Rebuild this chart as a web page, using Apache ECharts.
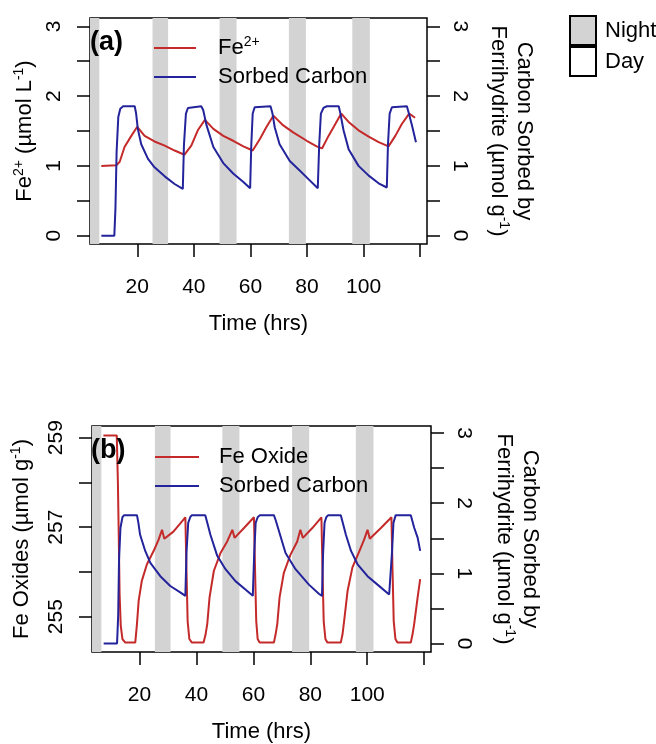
<!DOCTYPE html>
<html>
<head>
<meta charset="utf-8">
<script src="https://cdn.jsdelivr.net/npm/echarts@6/dist/echarts.min.js"></script>
<style>
  html, body { margin: 0; background: #fff; }
  #main { width: 656px; height: 744px; }
</style>
</head>
<body>
<div id="main"></div>
<script>
// night periods (hrs), same in both panels
const nights = [[3.3, 6.6], [25.4, 30.9], [49.1, 55.1], [73.6, 79.6], [96.0, 102.2]];

// (a) dissolved Fe2+ (umol/L)
const fe2Time = [7.3, 12.6, 13.8, 15.5, 17.9, 20.0, 22.6, 26.1, 29.7, 33.2, 36.7, 37.3, 39.1, 41.4, 43.9,
  46.9, 50.4, 53.9, 57.5, 60.8, 63.4, 65.7, 68.1, 71.6, 75.1, 79.9, 83.4, 85.3, 87.6, 90.0,
  92.1, 94.7, 98.2, 101.8, 105.3, 108.8, 111.2, 113.5, 116.1, 118.2];
const fe2Val = [1.00, 1.01, 1.06, 1.27, 1.43, 1.56, 1.43, 1.35, 1.29, 1.22, 1.16, 1.16, 1.29, 1.51, 1.66,
  1.53, 1.43, 1.36, 1.28, 1.22, 1.39, 1.56, 1.72, 1.58, 1.48, 1.36, 1.28, 1.25, 1.43, 1.60,
  1.75, 1.63, 1.51, 1.42, 1.34, 1.28, 1.43, 1.60, 1.75, 1.69];

// (a) carbon sorbed by ferrihydrite (umol/g)
const carbATime = [7.3, 11.9, 12.3, 12.7, 13.3, 14.0, 15.0, 19.1, 19.6, 20.2, 21.4, 23.8, 26.1, 29.7, 33.2,
  36.1, 36.5, 37.2, 37.9, 38.5, 42.6, 43.3, 44.5, 46.9, 50.4, 53.9, 57.5, 59.9, 60.3, 60.8,
  61.5, 62.2, 67.1, 67.8, 68.6, 70.3, 73.9, 77.5, 80.5, 83.8, 84.3, 84.9, 85.8, 87.0, 91.2,
  91.8, 92.9, 94.7, 98.2, 101.8, 105.3, 108.2, 108.6, 109.2, 110.0, 110.6, 115.3, 116.0, 117.1, 118.5];
const carbAVal = [0, 0, 0.4, 1.2, 1.7, 1.82, 1.855, 1.855, 1.75, 1.53, 1.31, 1.10, 0.98, 0.85, 0.74,
  0.67, 1.3, 1.75, 1.83, 1.855, 1.855, 1.8, 1.58, 1.27, 1.04, 0.89, 0.77, 0.68, 1.3, 1.75,
  1.84, 1.855, 1.855, 1.75, 1.55, 1.31, 1.07, 0.93, 0.81, 0.68, 1.3, 1.75, 1.83, 1.855, 1.855,
  1.75, 1.51, 1.24, 1.0, 0.86, 0.75, 0.69, 1.3, 1.75, 1.84, 1.855, 1.855, 1.75, 1.58, 1.34];

// (b) Fe oxides (umol/g)
const feOxTime = [7.3, 12.0, 12.4, 12.7, 13.0, 13.4, 14.0, 15.0, 18.5, 19.1, 19.7, 20.8, 22.6, 24.9, 26.7,
  27.9, 28.7, 31.9, 36.1, 36.5, 36.9, 37.5, 38.4, 42.5, 43.2, 43.8, 44.6, 46.1, 48.5, 50.8,
  52.6, 53.4, 56.7, 60.2, 60.6, 61.0, 61.5, 62.2, 67.2, 67.8, 68.4, 69.2, 70.7, 73.0, 75.4,
  76.5, 77.4, 80.7, 83.9, 84.3, 84.7, 85.3, 86.0, 90.7, 91.3, 91.9, 93.1, 94.8, 97.2, 98.9,
  100.1, 100.9, 104.8, 108.5, 108.9, 109.3, 109.9, 110.6, 115.3, 115.9, 116.5, 117.7, 118.6];
const feOxVal = [259.05, 259.05, 258.0, 256.8, 255.5, 254.8, 254.5, 254.42, 254.42, 254.84, 255.36, 255.8, 256.17, 256.46, 256.72,
  256.94, 256.74, 256.9, 257.22, 256.0, 254.9, 254.5, 254.42, 254.42, 254.6, 254.84, 255.43, 256.02, 256.43, 256.68,
  256.94, 256.76, 256.98, 257.22, 256.0, 254.9, 254.5, 254.42, 254.42, 254.6, 254.84, 255.43, 255.98, 256.38, 256.68,
  256.94, 256.76, 256.98, 257.22, 256.0, 254.9, 254.5, 254.42, 254.42, 254.6, 254.91, 255.58, 256.1, 256.46, 256.72,
  256.94, 256.74, 256.98, 257.22, 256.0, 254.9, 254.5, 254.42, 254.42, 254.6, 254.84, 255.43, 255.84];

// (b) carbon sorbed by ferrihydrite (umol/g)
const carbBTime = [7.4, 12.1, 12.5, 12.8, 13.3, 14.0, 14.6, 19.1, 19.6, 20.2, 22.0, 23.8, 27.3, 30.8, 34.3,
  36.1, 36.5, 37.1, 37.8, 38.4, 43.1, 43.8, 44.9, 47.3, 50.2, 53.7, 57.2, 59.8, 60.3, 60.8,
  61.5, 62.3, 67.2, 67.9, 69.0, 71.3, 74.8, 79.5, 83.0, 84.1, 84.5, 85.0, 85.6, 86.3, 90.7,
  91.4, 92.5, 94.3, 96.6, 100.1, 103.6, 107.7, 108.3, 108.7, 109.2, 110.0, 115.3, 116.5, 117.7, 118.6];
const carbBVal = [0, 0, 0.4, 1.2, 1.65, 1.8, 1.83, 1.83, 1.72, 1.55, 1.32, 1.15, 0.96, 0.82, 0.73,
  0.68, 1.3, 1.72, 1.8, 1.83, 1.83, 1.72, 1.55, 1.25, 1.06, 0.89, 0.77, 0.68, 1.3, 1.72,
  1.8, 1.83, 1.83, 1.75, 1.6, 1.29, 1.06, 0.84, 0.71, 0.68, 1.3, 1.72, 1.8, 1.83, 1.83,
  1.72, 1.55, 1.32, 1.13, 0.96, 0.84, 0.70, 0.68, 1.3, 1.72, 1.83, 1.83, 1.65, 1.51, 1.32];

// ticks and labels
const timeTicks = [20, 40, 60, 80, 100, 120];
const timeLabels = [20, 40, 60, 80, 100];
const halfTicks = [0, 0.5, 1, 1.5, 2, 2.5, 3];
const unitLabels = [0, 1, 2, 3];
const feOxTicks = [255, 256, 257, 258, 259];
const feOxLabels = [255, 257, 259];

const FONT = 'Liberation Sans';
const RED = '#c42a2a';
const BLUE = '#23239c';
const GREY = '#d3d3d3';

const pairs = (t, v) => t.map((x, i) => [x, v[i]]);

const rich = {
  t: { fontSize: 22, fontFamily: FONT, color: '#000', lineHeight: 26 },
  s: { fontSize: 14, fontFamily: FONT, color: '#000', verticalAlign: 'top', lineHeight: 26 }
};

function timeAxis(gi) {
  return {
    type: 'value', gridIndex: gi, min: 3.3, max: 122.4,
    axisLine: { show: false, onZero: false },
    splitLine: { show: false },
    axisTick: { customValues: timeTicks, length: 13, lineStyle: { color: '#000', width: 1.5 } },
    axisLabel: { customValues: timeLabels, margin: 33, fontSize: 21, fontFamily: FONT, color: '#000' },
    name: 'Time (hrs)', nameLocation: 'middle', nameGap: 69,
    nameTextStyle: { fontSize: 22, fontFamily: FONT, color: '#000' }
  };
}

function yAxisR(gi, pos, min, max, ticks, labels, name, gap) {
  return {
    type: 'value', gridIndex: gi, position: pos, min: min, max: max,
    axisLine: { show: false, onZero: false },
    splitLine: { show: false },
    axisTick: { customValues: ticks, length: 13, lineStyle: { color: '#000', width: 1.5 } },
    axisLabel: {
      customValues: labels, rotate: pos === 'left' ? 90 : -90, margin: pos === 'left' ? 25 : 22,
      fontSize: 21, fontFamily: FONT, color: '#000'
    },
    name: name, nameLocation: 'middle', nameGap: gap,
    nameRotate: pos === 'left' ? 90 : -90,
    nameTextStyle: { rich: rich, align: 'center' }
  };
}

function curve(name, xi, yi, data, color) {
  return {
    name: name, type: 'line', xAxisIndex: xi, yAxisIndex: yi, data: data,
    symbol: 'none', z: 3,
    lineStyle: { color: color, width: 2 }, itemStyle: { color: color }
  };
}

const chart = echarts.init(document.getElementById('main'));

chart.setOption({
  animation: false,
  backgroundColor: '#fff',
  title: [
    { text: '(a)', left: 90, top: 29, padding: 0, textStyle: { fontSize: 27, fontWeight: 'bold', fontFamily: FONT, color: '#000' } },
    { text: '(b)', left: 91, top: 437, padding: 0, textStyle: { fontSize: 27, fontWeight: 'bold', fontFamily: FONT, color: '#000' } }
  ],
  grid: [
    { left: 90, top: 18, width: 337, height: 226, show: true, borderColor: '#000', borderWidth: 1.5, backgroundColor: 'transparent' },
    { left: 92, top: 426, width: 339, height: 227, show: true, borderColor: '#000', borderWidth: 1.5, backgroundColor: 'transparent' }
  ],
  xAxis: [timeAxis(0), timeAxis(1)],
  yAxis: [
    yAxisR(0, 'left', -0.12, 3.12, halfTicks, unitLabels, '{t|Fe}{s|2+}{t| (µmol L}{s|-1}{t|)}', 52),
    yAxisR(0, 'right', -0.12, 3.12, halfTicks, unitLabels, '{t|Carbon Sorbed by}\n{t|Ferrihydrite (µmol g}{s|-1}{t|)}', 58),
    yAxisR(1, 'left', 254.21, 259.26, feOxTicks, feOxLabels, '{t|Fe Oxides (µmol g}{s|-1}{t|)}', 57),
    yAxisR(1, 'right', -0.12, 3.1, halfTicks, unitLabels, '{t|Carbon Sorbed by}\n{t|Ferrihydrite (µmol g}{s|-1}{t|)}', 60)
  ],
  legend: [
    {
      data: ['fe2', 'carbA'], left: 153, top: 35, orient: 'vertical', padding: 0,
      itemWidth: 42, itemHeight: 14, itemGap: 7, itemStyle: { opacity: 0 },
      formatter: n => n === 'fe2' ? '{t|Fe}{s|2+}' : '{t|Sorbed Carbon}',
      textStyle: { padding: [0, 0, 0, 17], rich: rich }
    },
    {
      data: ['feox', 'carbB'], left: 154, top: 446, orient: 'vertical', padding: 0,
      itemWidth: 44, itemHeight: 14, itemGap: 7, itemStyle: { opacity: 0 },
      formatter: n => n === 'feox' ? '{t|Fe Oxide}' : '{t|Sorbed Carbon}',
      textStyle: { padding: [0, 0, 0, 15], rich: rich }
    },
    {
      data: ['Night', 'Day'], left: 569, top: 15, orient: 'vertical', padding: 0,
      icon: 'rect', itemWidth: 26, itemHeight: 29, itemGap: 0,
      textStyle: { fontSize: 22, fontFamily: FONT, color: '#000', padding: [0, 0, 0, 4] }
    }
  ],
  series: [
    {
      name: 'bandsA', type: 'line', xAxisIndex: 0, yAxisIndex: 0, data: [], z: 1, silent: true,
      markArea: { silent: true, itemStyle: { color: GREY }, data: nights.map(n => [{ xAxis: n[0] }, { xAxis: n[1] }]) }
    },
    {
      name: 'bandsB', type: 'line', xAxisIndex: 1, yAxisIndex: 2, data: [], z: 1, silent: true,
      markArea: { silent: true, itemStyle: { color: GREY }, data: nights.map(n => [{ xAxis: n[0] }, { xAxis: n[1] }]) }
    },
    { name: 'Night', type: 'bar', xAxisIndex: 0, yAxisIndex: 0, data: [], itemStyle: { color: GREY, borderColor: '#000', borderWidth: 1.2 } },
    { name: 'Day', type: 'bar', xAxisIndex: 0, yAxisIndex: 0, data: [], itemStyle: { color: '#fff', borderColor: '#000', borderWidth: 1.2 } },
    curve('fe2', 0, 0, pairs(fe2Time, fe2Val), RED),
    curve('carbA', 0, 1, pairs(carbATime, carbAVal), BLUE),
    curve('feox', 1, 2, pairs(feOxTime, feOxVal), RED),
    curve('carbB', 1, 3, pairs(carbBTime, carbBVal), BLUE)
  ]
});
</script>
</body>
</html>
